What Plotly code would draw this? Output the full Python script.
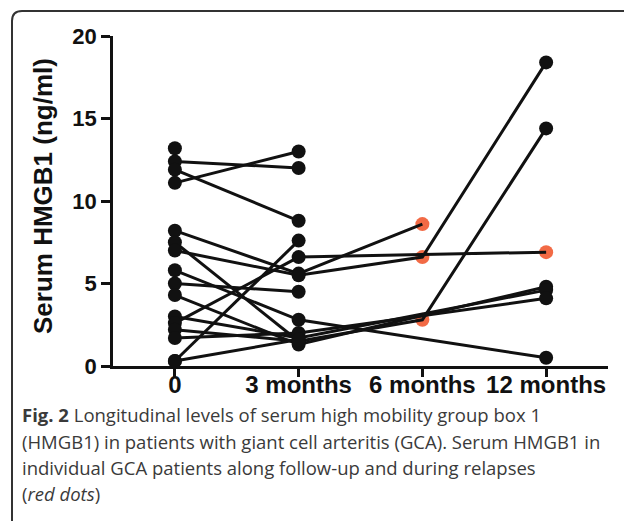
import plotly.graph_objects as go

# ---- data ----
timepoints = [0, 1, 2, 3]
tick_labels = ["0", "3 months", "6 months", "12 months"]
y_ticks = [0, 5, 10, 15, 20]

# serum HMGB1 (ng/ml) per patient at baseline, 3, 6 and 12 months (None = not measured)
baseline = [13.2, 12.4, 11.9, 11.1, 8.2, 7.5, 7.0, 5.8, 5.0, 4.3, 3.0, 2.6, 2.2, 1.7, 0.3, 0.3]
month3   = [None, 12.0, 8.8, 13.0, 5.6, 1.5, 5.5, 2.8, 4.5, 1.3, 1.7, 6.6, 1.5, 2.0, 7.6, 1.6]
month6   = [None, None, None, None, 8.6, None, 6.6, None, None, None, None, None, 2.8, None, None, None]
month12  = [None, None, None, None, None, None, 18.4, 0.5, None, 4.8, 4.6, 6.9, 14.4, 4.1, None, None]
# relapse flags (red dots)
relapse6  = [False, False, False, False, True, False, True, False, False, False, False, False, True, False, False, False]
relapse12 = [False, False, False, False, False, False, False, False, False, False, False, True, False, False, False, False]

caption_lines = [
    "<b>Fig. 2</b> Longitudinal levels of serum high mobility group box 1",
    "(HMGB1) in patients with giant cell arteritis (GCA). Serum HMGB1 in",
    "individual GCA patients along follow-up and during relapses",
    "(<i>red dots</i>)",
]

W, H = 624, 521
L, R, T, B = 113, 16, 36, 155
pw, ph = W - L - R, H - T - B

def px(x):
    return (x - L) / pw

def py(y):
    return (H - B - y) / ph

fig = go.Figure()

series = [baseline, month3, month6, month12]
flags = [[False] * len(baseline), [False] * len(baseline), relapse6, relapse12]

rx, ry, bx, by = [], [], [], []
for t, vals, fl in zip(timepoints, series, flags):
    for v, f in zip(vals, fl):
        if v is None:
            continue
        if f:
            rx.append(t); ry.append(v)
        else:
            bx.append(t); by.append(v)

fig.add_trace(go.Scatter(x=rx, y=ry, mode="markers",
                         marker=dict(color="#F26A45", size=14, line=dict(width=0)),
                         cliponaxis=False, showlegend=False, hoverinfo="skip"))

for i in range(len(baseline)):
    ys = [s[i] for s in series]
    fig.add_trace(go.Scatter(x=timepoints, y=ys, mode="lines", connectgaps=True,
                             line=dict(color="#111111", width=3),
                             cliponaxis=False, showlegend=False, hoverinfo="skip"))

fig.add_trace(go.Scatter(x=bx, y=by, mode="markers",
                         marker=dict(color="#111111", size=14, line=dict(width=0)),
                         cliponaxis=False, showlegend=False, hoverinfo="skip"))

fig.update_xaxes(range=[-0.5, 3.5], tickvals=timepoints, ticktext=[f"<b>{t}</b>" for t in tick_labels],
                 showline=True, linecolor="#111111", linewidth=2.5, ticks="outside",
                 ticklen=8, tickwidth=2.5, tickcolor="#111111", showgrid=False, zeroline=False,
                 ticklabelstandoff=-13,
                 tickfont=dict(family="Liberation Sans, Arial", size=24, color="#111111"))
fig.update_yaxes(range=[0, 20], tickvals=y_ticks, ticktext=[f"<b>{v}</b>" for v in y_ticks],
                 showline=True, linecolor="#111111", linewidth=2.5, ticks="outside",
                 ticklen=9, tickwidth=2.5, tickcolor="#111111", showgrid=False, zeroline=False,
                 tickfont=dict(family="Liberation Sans, Arial", size=22, color="#111111"))

annotations = [dict(text="<b>Serum HMGB1 (ng/ml)</b>", x=px(43), y=py(196), xref="paper", yref="paper",
                    textangle=-90, showarrow=False, xanchor="center", yanchor="middle",
                    font=dict(family="Liberation Sans, Arial", size=26, color="#111111"))]
cap_y = [414, 441, 467, 493]
for txt, yy in zip(caption_lines, cap_y):
    annotations.append(dict(text=txt, x=px(20), y=py(yy), xref="paper", yref="paper",
                            showarrow=False, xanchor="left", yanchor="middle", align="left",
                            font=dict(family="Open Sans", size=18.5, color="#3a3a3a")))

border = (f"M {px(12)},{py(530)} L {px(12)},{py(21)} Q {px(12)},{py(11)} {px(22)},{py(11)} "
          f"L {px(630)},{py(11)}")

fig.update_layout(
    width=W, height=H,
    margin=dict(l=L, r=R, t=T, b=B),
    paper_bgcolor="white", plot_bgcolor="white",
    annotations=annotations,
    shapes=[dict(type="path", path=border, xref="paper", yref="paper",
                 line=dict(color="#333333", width=2))],
)

fig.write_html("out.html", config={"displayModeBar": False},
               post_script="document.body.style.margin='0';document.body.style.padding='0';")
